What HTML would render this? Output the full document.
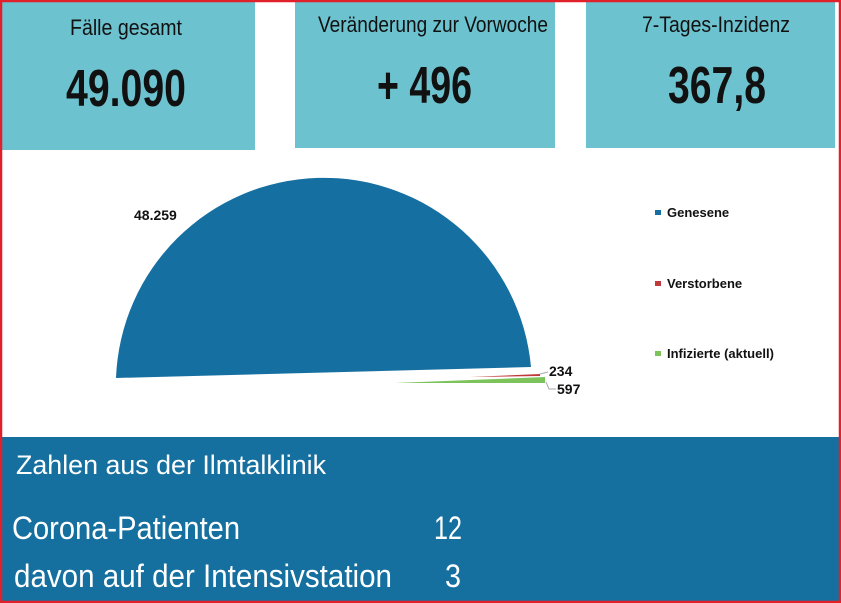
<!DOCTYPE html>
<html><head><meta charset="utf-8"><style>
html,body{margin:0;padding:0;background:#fff}
body{width:841px;height:603px;overflow:hidden;position:relative}
svg{position:absolute;left:0;top:0}
</style></head><body>
<svg width="841" height="603" viewBox="0 0 841 603" font-family="Liberation Sans, sans-serif">
<rect x="0" y="0" width="841" height="603" fill="#fff"/>
<rect x="2" y="2" width="253" height="148" fill="#6cc3cf"/>
<rect x="295" y="2" width="260" height="146" fill="#6cc3cf"/>
<rect x="586" y="2" width="249" height="146" fill="#6cc3cf"/>
<g fill="#111">
<text x="70" y="35" font-size="22" textLength="112" lengthAdjust="spacingAndGlyphs">Fälle gesamt</text>
<text x="318" y="32" font-size="22" textLength="230" lengthAdjust="spacingAndGlyphs">Veränderung zur Vorwoche</text>
<text x="642" y="32" font-size="22" textLength="148" lengthAdjust="spacingAndGlyphs">7-Tages-Inzidenz</text>
<text x="66" y="106" font-size="52" font-weight="bold" textLength="120" lengthAdjust="spacingAndGlyphs">49.090</text>
<text x="377" y="103" font-size="52" font-weight="bold" textLength="95" lengthAdjust="spacingAndGlyphs">+ 496</text>
<text x="668" y="103" font-size="52" font-weight="bold" textLength="98" lengthAdjust="spacingAndGlyphs">367,8</text>
</g>
<path d="M116,378 A208,208 0 0 1 531,367 Z" fill="#156fa0"/>
<path d="M470,377 L540,374 L540,376 Z" fill="#c0393b"/>
<path d="M395,383 L545,377 L545,383 Z" fill="#7dc35b"/>
<path d="M540,374 L548,372" stroke="#aaa" fill="none"/>
<path d="M546,382 L549,389 L556,389" stroke="#aaa" fill="none"/>
<g font-size="14" font-weight="bold" fill="#111">
<text x="134" y="220">48.259</text>
<text x="549" y="376">234</text>
<text x="557" y="394">597</text>
<text x="667" y="217" font-size="13">Genesene</text>
<text x="667" y="288" font-size="13">Verstorbene</text>
<text x="667" y="358" font-size="13">Infizierte (aktuell)</text>
</g>
<rect x="655" y="210" width="6" height="5" fill="#156fa0"/>
<rect x="655" y="281" width="6" height="5" fill="#c0393b"/>
<rect x="655" y="351" width="6" height="5" fill="#7dc35b"/>
<rect x="0" y="437" width="841" height="166" fill="#16709f"/>
<g fill="#fff">
<text x="16" y="474" font-size="27" textLength="310" lengthAdjust="spacingAndGlyphs">Zahlen aus der Ilmtalklinik</text>
<text x="12" y="539" font-size="32" textLength="228" lengthAdjust="spacingAndGlyphs">Corona-Patienten</text>
<text x="434" y="539" font-size="32" textLength="28" lengthAdjust="spacingAndGlyphs">12</text>
<text x="14" y="587" font-size="32" textLength="378" lengthAdjust="spacingAndGlyphs">davon auf der Intensivstation</text>
<text x="445" y="587" font-size="32" textLength="16" lengthAdjust="spacingAndGlyphs">3</text>
</g>
<rect x="1" y="1" width="839" height="601" fill="none" stroke="#e0202a" stroke-width="2.5"/>
</svg>
</body></html>
